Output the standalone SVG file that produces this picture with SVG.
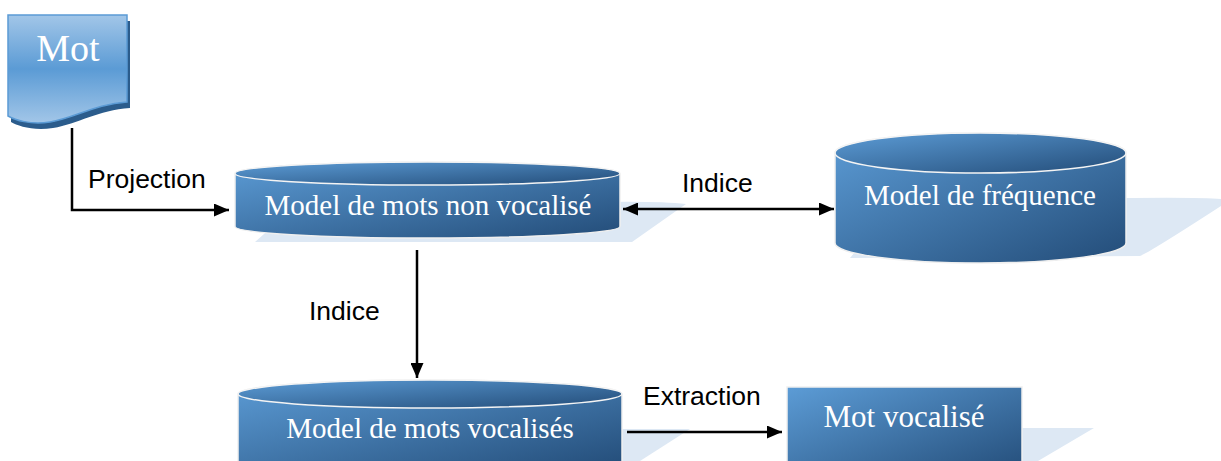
<svg xmlns="http://www.w3.org/2000/svg" width="1221" height="461" viewBox="0 0 1221 461">
  <defs>
    <linearGradient id="gDoc" x1="0" y1="0" x2="0" y2="1">
      <stop offset="0" stop-color="#a2c6e8"/>
      <stop offset="0.5" stop-color="#5b9bd5"/>
      <stop offset="1" stop-color="#a2c6e8"/>
    </linearGradient>
    <linearGradient id="gBlue" x1="0" y1="0" x2="1" y2="1">
      <stop offset="0" stop-color="#5c9cd6"/>
      <stop offset="1" stop-color="#234c78"/>
    </linearGradient>
    <marker id="arrow" viewBox="0 0 15 13" refX="15" refY="6.5" markerWidth="15" markerHeight="13" markerUnits="userSpaceOnUse" orient="auto-start-reverse">
      <path d="M0,0 L15,6.5 L0,13 Z" fill="#000"/>
    </marker>
    <style>
      .shadow { fill: #dde8f4; }
      .shape { fill: url(#gBlue); stroke: #efefef; stroke-width: 1.5; }
      .rim { fill: url(#gBlue); stroke: #f4f4f4; stroke-width: 1.5; }
      .title { font-family: "Liberation Serif", "Times New Roman", serif; fill: #ffffff; text-anchor: middle; }
      .label { font-family: "Liberation Sans", Arial, sans-serif; font-size: 26.5px; fill: #000; }
      .conn { fill: none; stroke: #000; stroke-width: 2.5; }
    </style>
  </defs>

  <rect width="1221" height="461" fill="#ffffff"/>

  <!-- perspective shadows cast to the right -->
  <g id="shadows">
    <path class="shadow" d="M255,242 L632,242 L686,204 Q660,201 600,202 L300,202 Z"/>
    <path class="shadow" d="M850,258 L1140,256 Q1150,252 1221,206 L1221,199 Q1200,197 1120,198 L900,198 Z"/>
    <path class="shadow" d="M600,429 L690,429 L640,461 L600,461 Z"/>
    <path class="shadow" d="M1010,428 L1094,428 L1038,461 L1010,461 Z"/>
  </g>

  <!-- connectors -->
  <g id="connectors">
    <path class="conn" d="M72,128 V210 H229" marker-end="url(#arrow)"/>
    <path class="conn" d="M623,209 H834" marker-start="url(#arrow)" marker-end="url(#arrow)"/>
    <path class="conn" d="M417,250 V378" marker-end="url(#arrow)"/>
    <path class="conn" d="M627,432 H782" marker-end="url(#arrow)"/>
  </g>

  <!-- document node -->
  <g id="mot">
    <path d="M8,15 H127 V102 C95,104 75,118 50,122 C30,125 15,120 8,116 Z" fill="#2b5c8c" transform="translate(3,6)"/>
    <path d="M8,15 H127 V102 C95,104 75,118 50,122 C30,125 15,120 8,116 Z" fill="url(#gDoc)" stroke="#5b9bd5" stroke-width="1.5"/>
    <text class="title" x="68" y="61" font-size="38">Mot</text>
  </g>

  <!-- database: unvocalised words -->
  <g id="model-non-vocalise">
    <path class="shape" d="M235,173.5 A192.5,11.5 0 0 1 620,173.5 V226.5 A192.5,11.5 0 0 1 235,226.5 Z"/>
    <ellipse class="rim" cx="427.5" cy="173.5" rx="192.5" ry="11.5"/>
    <text class="title" x="428" y="215" font-size="29">Model de mots non vocalisé</text>
  </g>

  <!-- database: frequencies -->
  <g id="model-frequence">
    <path class="shape" d="M835,153 A145.5,20 0 0 1 1126,153 V243 A145.5,20 0 0 1 835,243 Z"/>
    <ellipse class="rim" cx="980.5" cy="153" rx="145.5" ry="20"/>
    <text class="title" x="980" y="205" font-size="29">Model de fréquence</text>
  </g>

  <!-- database: vocalised words -->
  <g id="model-vocalises">
    <path class="shape" d="M238,394 A192,14 0 0 1 622,394 V470 H238 Z"/>
    <ellipse class="rim" cx="430" cy="394" rx="192" ry="14"/>
    <text class="title" x="430" y="438" font-size="29">Model de mots vocalisés</text>
  </g>

  <!-- result node -->
  <g id="mot-vocalise">
    <rect class="shape" x="787" y="387" width="235" height="90"/>
    <text class="title" x="904" y="427" font-size="31">Mot vocalisé</text>
  </g>

  <!-- connector labels -->
  <g id="labels">
    <text class="label" x="88" y="188">Projection</text>
    <text class="label" x="682" y="192">Indice</text>
    <text class="label" x="309" y="320">Indice</text>
    <text class="label" x="643" y="405">Extraction</text>
  </g>
</svg>
